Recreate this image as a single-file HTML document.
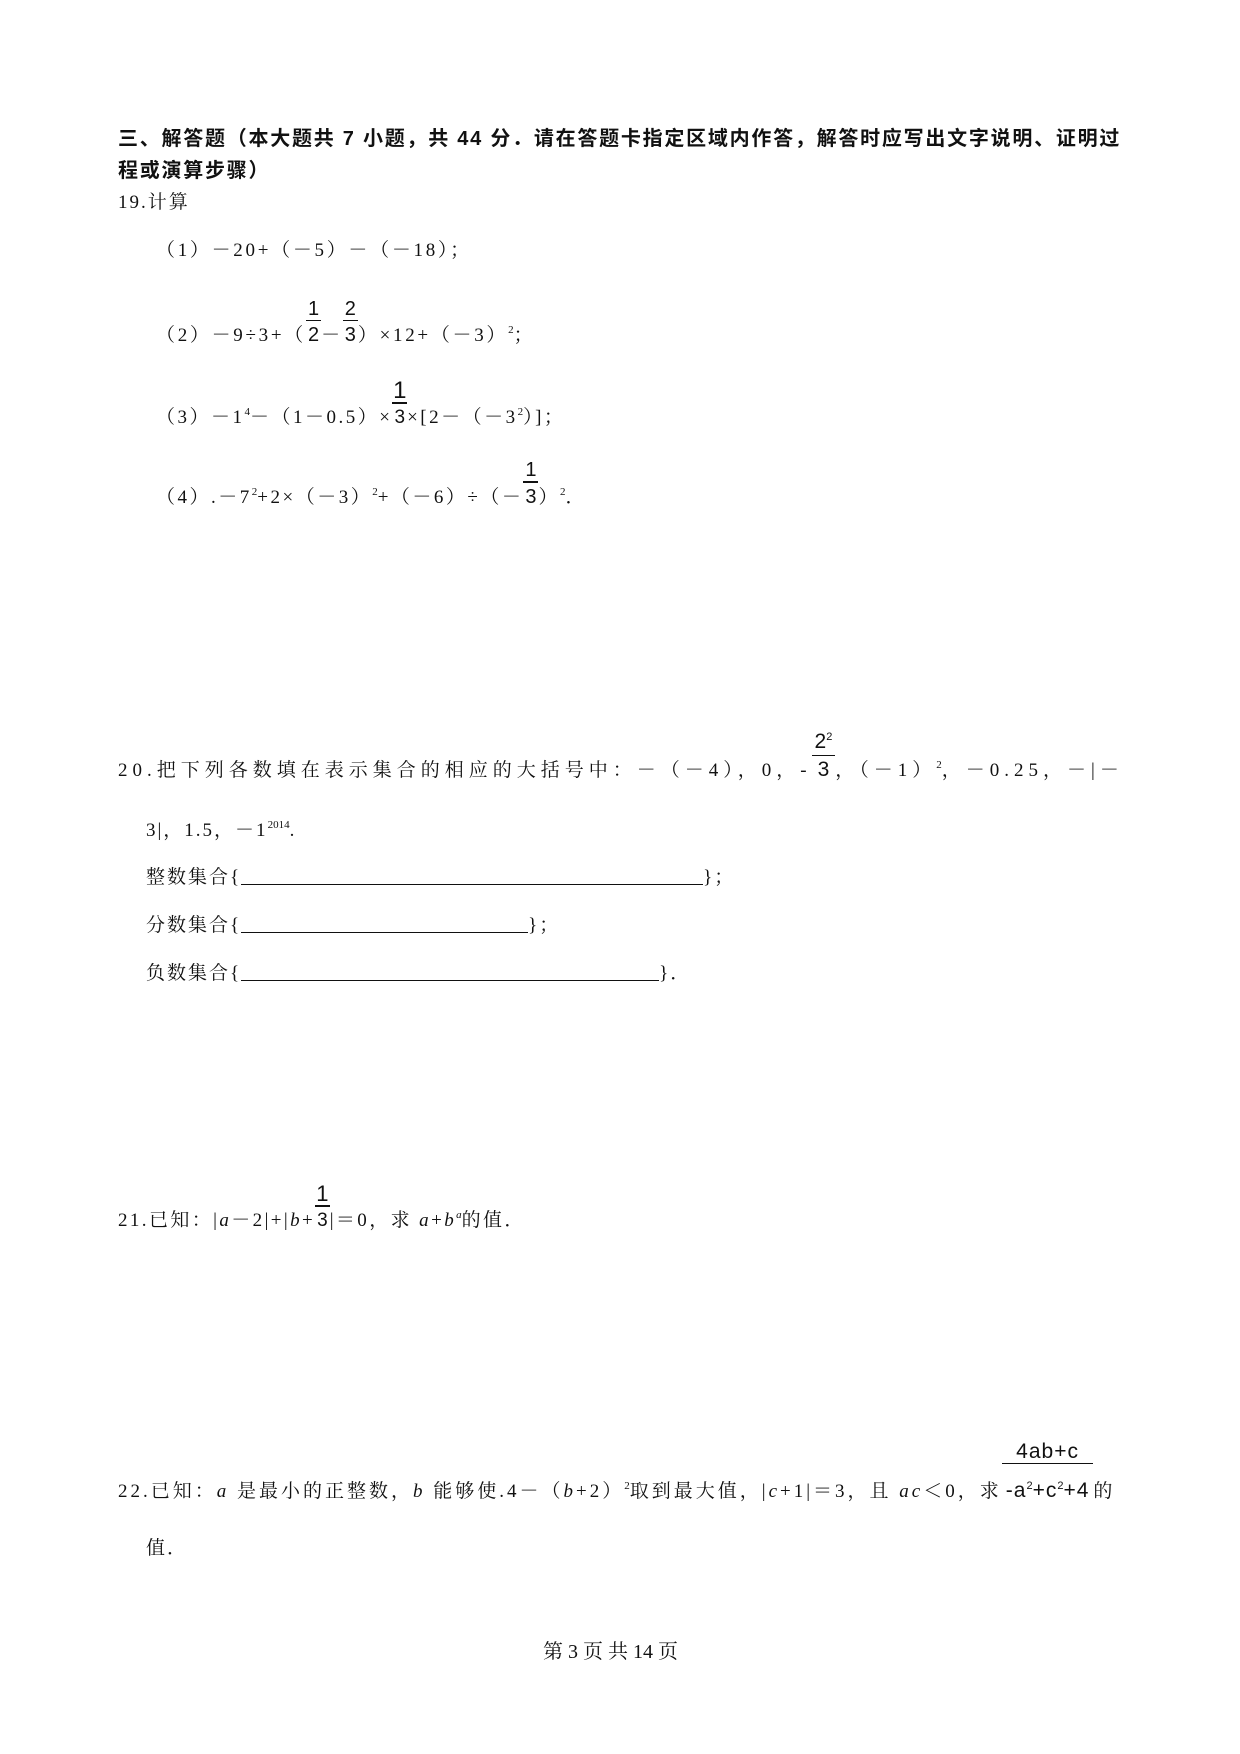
<!DOCTYPE html>
<html><head><meta charset="utf-8">
<style>
body{margin:0;background:#fff;}
#p{position:relative;width:1240px;height:1754px;overflow:hidden;font-family:"Liberation Serif","Noto Serif CJK SC","Noto Sans CJK SC",serif;font-size:19px;color:#111;}
.l{position:absolute;white-space:nowrap;line-height:22px;letter-spacing:2px;}
.b{font-weight:bold;font-family:"Liberation Sans","Noto Sans CJK SC",sans-serif;font-size:20px;letter-spacing:1.75px;}
.fr{display:inline-block;position:relative;text-align:center;font-family:"Liberation Sans","DejaVu Sans",sans-serif;letter-spacing:0;padding:0 2px;}
.fr .n{position:absolute;left:0;right:0;bottom:115%;border-bottom:1px solid #111;line-height:22px;}
sup{font-size:11px;vertical-align:8px;letter-spacing:0;}
i{font-style:italic;}
.u{display:inline-block;border-bottom:1.5px solid #111;position:relative;top:2px;}
</style></head><body><div id="p">
<div class="l b" style="left:118px;top:128px;">三、解答题（本大题共 7 小题，共 44 分．请在答题卡指定区域内作答，解答时应写出文字说明、证明过</div>
<div class="l b" style="left:118px;top:160px;">程或演算步骤）</div>
<div class="l" style="left:118px;top:192px;">19.计算</div>

<div class="l" style="left:156px;top:240px;letter-spacing:2.7px">（1）－20+（－5）－（－18）；</div>

<div class="l" style="left:156px;top:319px;letter-spacing:2.7px">（2）－9÷3+（<span class="fr" style="font-size:20px"><span class="n">1</span>2</span>－<span class="fr" style="font-size:20px"><span class="n">2</span>3</span>）×12+（－3）<sup>2</sup>；</div>

<div class="l" style="left:156px;top:401px;letter-spacing:2.5px">（3）－1<sup>4</sup>－（1－0.5）×<span class="fr"><span class="n" style="font-size:24px;border-bottom-width:2px">1</span>3</span>×[2－（－3<sup>2</sup>）]；</div>

<div class="l" style="left:156px;top:481px;letter-spacing:2.5px">（4）.－7<sup>2</sup>+2×（－3）<sup>2</sup>+（－6）÷（－<span class="fr" style="font-size:20px"><span class="n" style="border-bottom-width:2px">1</span>3</span>）<sup>2</sup>．</div>

<div class="l" style="left:118px;top:754px;letter-spacing:5px">20.把下列各数填在表示集合的相应的大括号中：－（－4），0，-<span class="fr" style="font-size:21px;padding:0 6px"><span class="n" style="line-height:26px">2<sup>2</sup></span>3</span>，（－1）<sup>2</sup>，－0.25，－|－</div>
<div class="l" style="left:146px;top:814px;">3|，1.5，－1<sup>2014</sup>.</div>
<div class="l" style="left:146px;top:862px;">整数集合{<span class="u" style="width:462px;height:20px"></span>}；</div>
<div class="l" style="left:146px;top:910px;">分数集合{<span class="u" style="width:287px;height:20px"></span>}；</div>
<div class="l" style="left:146px;top:958px;">负数集合{<span class="u" style="width:418px;height:20px"></span>}．</div>

<div class="l" style="left:118px;top:1204px;letter-spacing:2.4px">21.已知：|<i>a</i>－2|+|<i>b</i>+<span class="fr" style="font-size:19px"><span class="n" style="font-size:22px;border-bottom-width:2px">1</span>3</span>|＝0，求 <i>a</i>+<i>b</i><sup><i>a</i></sup>的值．</div>

<div class="l" style="left:118px;top:1475px;letter-spacing:3px">22.已知：<i>a</i> 是最小的正整数，<i>b</i> 能够使.4－（<i>b</i>+2）<sup>2</sup>取到最大值，|<i>c</i>+1|＝3，且 <i>ac</i>＜0，求<span class="fr" style="font-size:21px;padding:0 4px;letter-spacing:1px"><span class="n" style="bottom:140%">4ab+c</span>-a<sup>2</sup>+c<sup>2</sup>+4</span>的</div>
<div class="l" style="left:146px;top:1538px;">值．</div>

<div class="l" style="left:543px;top:1641px;font-size:20px;letter-spacing:0">第 3 页 共 14 页</div>
</div></body></html>
